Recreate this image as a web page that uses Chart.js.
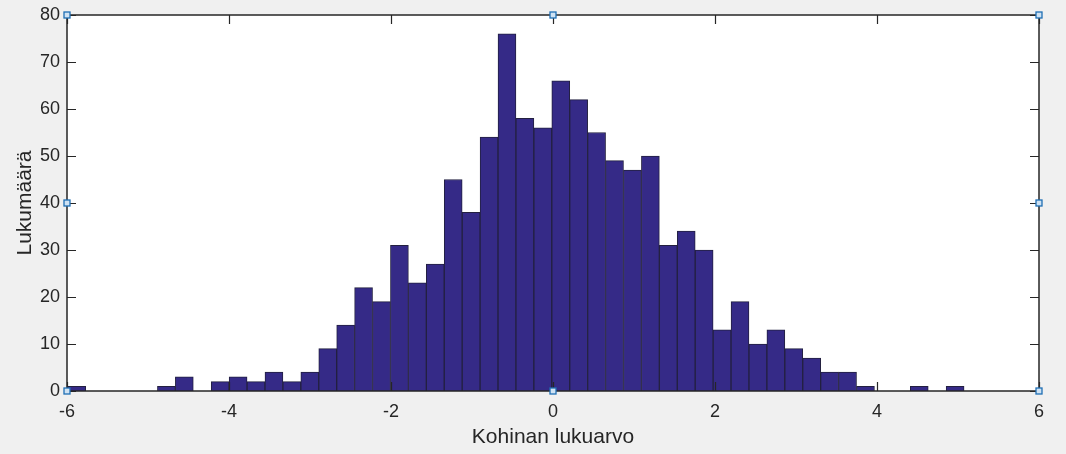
<!DOCTYPE html>
<html>
<head>
<meta charset="utf-8">
<script src="https://cdn.jsdelivr.net/npm/chart.js@4.4.1/dist/chart.umd.min.js"></script>
<style>
  html, body { margin: 0; padding: 0; background: #f0f0f0; }
  #wrap { width: 1066px; height: 454px; }
</style>
</head>
<body>
<div id="wrap"><canvas id="hist"></canvas></div>
<script>
// Histogrammin data (50 lokeroa)
const binMin = -5.99;
const binMax = 5.075;
const counts = [1, 0, 0, 0, 0, 1, 3, 0, 2, 3,
                2, 4, 2, 4, 9, 14, 22, 19, 31, 23,
                27, 45, 38, 54, 76, 58, 56, 66, 62, 55,
                49, 47, 50, 31, 34, 30, 13, 19, 10, 13,
                9, 7, 4, 4, 1, 0, 0, 1, 0, 1];
const xTicks = [-6, -4, -2, 0, 2, 4, 6];
const yTicks = [0, 10, 20, 30, 40, 50, 60, 70, 80];

const binWidth = (binMax - binMin) / counts.length;
const points = counts.map((c, i) => ({ x: binMin + (i + 0.5) * binWidth, y: c }));

const ink = '#262626';
const font = { family: '"Liberation Sans", Arial, sans-serif', size: 18 };

// MATLAB-tyylinen laatikko, sisäänpäin osoittavat tikit ja valintakahvat
const boxPlugin = {
  id: 'box',
  afterDraw(chart) {
    const { ctx, chartArea: a, scales } = chart;
    ctx.save();
    ctx.strokeStyle = ink;
    ctx.lineWidth = 1.5;
    ctx.strokeRect(a.left, a.top, a.right - a.left, a.bottom - a.top);
    ctx.lineWidth = 1.2;
    ctx.beginPath();
    xTicks.forEach(v => {
      const px = Math.round(scales.x.getPixelForValue(v)) + 0.5;
      ctx.moveTo(px, a.bottom); ctx.lineTo(px, a.bottom - 9);
      ctx.moveTo(px, a.top); ctx.lineTo(px, a.top + 9);
    });
    yTicks.forEach(v => {
      const py = Math.round(scales.y.getPixelForValue(v)) + 0.5;
      ctx.moveTo(a.left, py); ctx.lineTo(a.left + 9, py);
      ctx.moveTo(a.right, py); ctx.lineTo(a.right - 9, py);
    });
    ctx.stroke();

    const midX = (a.left + a.right) / 2;
    const midY = (a.top + a.bottom) / 2;
    const handles = [
      [a.left, a.top], [midX, a.top], [a.right, a.top],
      [a.left, midY], [a.right, midY],
      [a.left, a.bottom], [midX, a.bottom], [a.right, a.bottom]
    ];
    ctx.lineWidth = 1.3;
    handles.forEach(([hx, hy]) => {
      ctx.fillStyle = '#cfe2f3';
      ctx.strokeStyle = '#1f6fb4';
      ctx.fillRect(Math.round(hx) - 3, Math.round(hy) - 3, 6, 6);
      ctx.strokeRect(Math.round(hx) - 3, Math.round(hy) - 3, 6, 6);
    });
    ctx.restore();
  }
};

const bgPlugin = {
  id: 'bg',
  beforeDraw(chart) {
    const { ctx, chartArea: a } = chart;
    ctx.save();
    ctx.fillStyle = '#f0f0f0';
    ctx.fillRect(0, 0, chart.width, chart.height);
    ctx.fillStyle = '#ffffff';
    ctx.fillRect(a.left, a.top, a.right - a.left, a.bottom - a.top);
    ctx.restore();
  }
};

new Chart('hist', {
  type: 'bar',
  data: {
    datasets: [{
      label: 'Lukumäärä',
      data: points,
      backgroundColor: '#352a87',
      borderColor: '#232040',
      borderWidth: 1,
      barPercentage: 1,
      categoryPercentage: 1
    }]
  },
  options: {
    responsive: true,
    maintainAspectRatio: false,
    animation: false,
    layout: { padding: { left: 0, top: 15, right: 27, bottom: 0 } },
    plugins: { legend: { display: false }, tooltip: { enabled: false } },
    scales: {
      x: {
        type: 'linear',
        min: -6,
        max: 6,
        offset: false,
        grid: { display: false, offset: false, drawTicks: false },
        border: { display: false },
        afterBuildTicks: s => { s.ticks = xTicks.map(v => ({ value: v })); },
        afterFit: s => { s.height = 63; s.paddingLeft = 0; s.paddingRight = 0; },
        ticks: { color: ink, font, padding: 10, maxRotation: 0 },
        title: { display: true, text: 'Kohinan lukuarvo', color: ink,
                 font: { family: font.family, size: 21 }, padding: { top: 0, bottom: 4 } }
      },
      y: {
        min: 0,
        max: 80,
        grid: { display: false, drawTicks: false },
        border: { display: false },
        afterBuildTicks: s => { s.ticks = yTicks.map(v => ({ value: v })); },
        afterFit: s => { s.width = 67; s.paddingTop = 0; s.paddingBottom = 0; },
        ticks: { color: ink, font, padding: 7 },
        title: { display: true, text: 'Lukumäärä', color: ink,
                 font: { family: font.family, size: 21 }, padding: { top: 13, bottom: 0 } }
      }
    }
  },
  plugins: [bgPlugin, boxPlugin]
});
</script>
</body>
</html>
